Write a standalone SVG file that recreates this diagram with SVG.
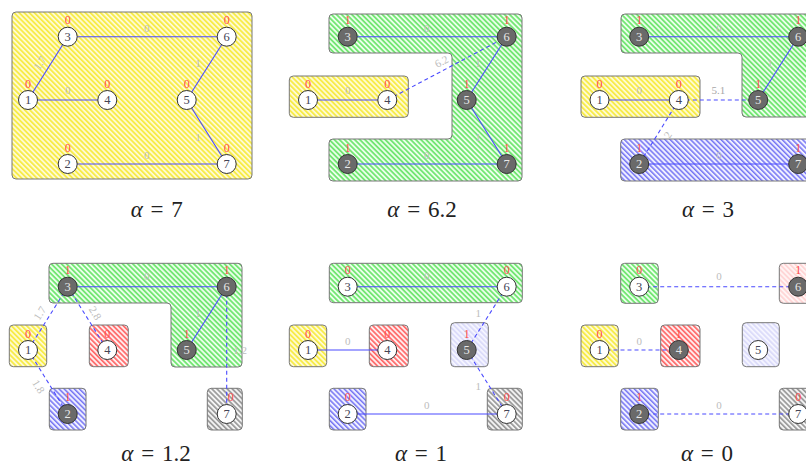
<svg xmlns="http://www.w3.org/2000/svg" width="806" height="468" viewBox="0 0 806 468">
<style>
.n circle{fill:#fff;stroke:#333;stroke-width:1}
.n.d circle{fill:#6a6a6a}
.n text{font-family:"Liberation Serif",serif;font-size:12.5px;text-anchor:middle;fill:#445}
.n.d text{fill:#e8e8e8}
.n text.r{fill:#ff4a4a;font-size:12px}
.e{stroke:#4a4aff;stroke-width:1.1;fill:none}
.ed{stroke:#4a4aff;stroke-width:1.1;fill:none;stroke-dasharray:4 3}
.el{font-family:"Liberation Serif",serif;font-size:11px;fill:#bdbdbd;text-anchor:middle}
.reg{stroke:#777;stroke-width:1}
.al{font-family:"Liberation Serif",serif;font-size:23px;fill:#222;text-anchor:middle;word-spacing:2px}
</style>
<defs>
<pattern id="py" width="3.6" height="3.6" patternUnits="userSpaceOnUse" patternTransform="rotate(-45)"><rect width="3.6" height="3.6" fill="#fffbd8"/><rect width="1.9" height="3.6" fill="#f7ec4a"/></pattern>
<pattern id="pg" width="3.6" height="3.6" patternUnits="userSpaceOnUse" patternTransform="rotate(-45)"><rect width="3.6" height="3.6" fill="#eaffea"/><rect width="1.8" height="3.6" fill="#74e674"/></pattern>
<pattern id="pb" width="3.6" height="3.6" patternUnits="userSpaceOnUse" patternTransform="rotate(-45)"><rect width="3.6" height="3.6" fill="#f0f0ff"/><rect width="1.5" height="3.6" fill="#7474f4"/></pattern>
<pattern id="pr" width="3.6" height="3.6" patternUnits="userSpaceOnUse" patternTransform="rotate(-45)"><rect width="3.6" height="3.6" fill="#ffeeee"/><rect width="1.7" height="3.6" fill="#ff6a6a"/></pattern>
<pattern id="pk" width="3.6" height="3.6" patternUnits="userSpaceOnUse" patternTransform="rotate(-45)"><rect width="3.6" height="3.6" fill="#f4f4f4"/><rect width="1.7" height="3.6" fill="#9a9a9a"/></pattern>
<pattern id="pl" width="3.6" height="3.6" patternUnits="userSpaceOnUse" patternTransform="rotate(-45)"><rect width="3.6" height="3.6" fill="#f6f6ff"/><rect width="1.9" height="3.6" fill="#dcdcfa"/></pattern>
<pattern id="pp" width="3.6" height="3.6" patternUnits="userSpaceOnUse" patternTransform="rotate(-45)"><rect width="3.6" height="3.6" fill="#fff6f6"/><rect width="1.9" height="3.6" fill="#ffd6d6"/></pattern>
</defs>
<rect width="806" height="468" fill="#fff"/>

<!-- Panel alpha = 7 -->
<g id="panel-a7">
<rect class="reg" x="12" y="12" width="240" height="167" rx="4" fill="url(#py)"/>
<g id="a7-connectors">
<line class="e" x1="67.7" y1="36.7" x2="226.7" y2="36.7"/>
<line class="e" x1="28" y1="100" x2="67.7" y2="36.7"/>
<line class="e" x1="28" y1="100" x2="107.3" y2="100"/>
<line class="e" x1="186.7" y1="100" x2="226.7" y2="36.7"/>
<line class="e" x1="186.7" y1="100" x2="226.7" y2="164"/>
<line class="e" x1="67.7" y1="164" x2="226.7" y2="164"/>
<text class="el" x="146.7" y="31.5">0</text>
<text class="el" transform="translate(40,63) rotate(-58)" y="3.5">1.7</text>
<text class="el" x="67.7" y="94">0</text>
<text class="el" x="198" y="66.5">1</text>
<text class="el" x="198" y="140.5">1</text>
<text class="el" x="146.7" y="158.5">0</text>
</g>
<g id="a7-n3" class="n"><circle cx="67.7" cy="36.7" r="9.5"/><text x="67.7" y="40.7">3</text><text class="r" x="67.7" y="24">0</text></g>
<g id="a7-n6" class="n"><circle cx="226.7" cy="36.7" r="9.5"/><text x="226.7" y="40.7">6</text><text class="r" x="226.7" y="24">0</text></g>
<g id="a7-n1" class="n"><circle cx="28" cy="100" r="9.5"/><text x="28" y="104">1</text><text class="r" x="28" y="87.5">0</text></g>
<g id="a7-n4" class="n"><circle cx="107.3" cy="100" r="9.5"/><text x="107.3" y="104">4</text><text class="r" x="107.3" y="87.5">0</text></g>
<g id="a7-n5" class="n"><circle cx="186.7" cy="100" r="9.5"/><text x="186.7" y="104">5</text><text class="r" x="186.7" y="87.5">0</text></g>
<g id="a7-n2" class="n"><circle cx="67.7" cy="164" r="9.5"/><text x="67.7" y="168">2</text><text class="r" x="67.7" y="151.5">0</text></g>
<g id="a7-n7" class="n"><circle cx="226.7" cy="164" r="9.5"/><text x="226.7" y="168">7</text><text class="r" x="226.7" y="151.5">0</text></g>
<text class="al" x="156.7" y="216.5"><tspan font-style="italic">α</tspan> = 7</text>
</g>

<!-- Panel alpha = 6.2 -->
<g id="panel-a62">
<path class="reg" fill="url(#pg)" d="M333,14 H518 Q522,14 522,18 V177 Q522,181 518,181 H333 Q329,181 329,177 V143 Q329,139 333,139 H448 Q452,139 452,135 V57 Q452,53 448,53 H333 Q329,53 329,49 V18 Q329,14 333,14 Z"/>
<rect class="reg" x="289.3" y="76" width="119" height="41.3" rx="4" fill="url(#py)" stroke="#333"/>
<g id="a62-connectors">
<line class="e" x1="347.7" y1="36.7" x2="506.7" y2="36.7"/>
<line class="e" x1="466.7" y1="100" x2="506.7" y2="36.7"/>
<line class="e" x1="466.7" y1="100" x2="506.7" y2="164"/>
<line class="e" x1="347.7" y1="164" x2="506.7" y2="164"/>
<line class="e" x1="308" y1="100" x2="387.3" y2="100"/>
<line class="ed" x1="387.3" y1="100" x2="506.7" y2="36.7"/>
<text class="el" x="426.7" y="31.5">0</text>
<text class="el" x="478" y="66.5">1</text>
<text class="el" x="478" y="140.5">1</text>
<text class="el" x="426.7" y="158.5">0</text>
<text class="el" x="347.7" y="94">0</text>
<text class="el" transform="translate(441.7,61.7) rotate(-28)" y="3.5">6.2</text>
</g>
<g id="a62-n3" class="n d"><circle cx="347.7" cy="36.7" r="9.5"/><text x="347.7" y="40.7">3</text><text class="r" x="347.7" y="24">1</text></g>
<g id="a62-n6" class="n d"><circle cx="506.7" cy="36.7" r="9.5"/><text x="506.7" y="40.7">6</text><text class="r" x="506.7" y="24">1</text></g>
<g id="a62-n1" class="n"><circle cx="308" cy="100" r="9.5"/><text x="308" y="104">1</text><text class="r" x="308" y="87.5">0</text></g>
<g id="a62-n4" class="n"><circle cx="387.3" cy="100" r="9.5"/><text x="387.3" y="104">4</text><text class="r" x="387.3" y="87.5">0</text></g>
<g id="a62-n5" class="n d"><circle cx="466.7" cy="100" r="9.5"/><text x="466.7" y="104">5</text><text class="r" x="466.7" y="87.5">1</text></g>
<g id="a62-n2" class="n d"><circle cx="347.7" cy="164" r="9.5"/><text x="347.7" y="168">2</text><text class="r" x="347.7" y="151.5">1</text></g>
<g id="a62-n7" class="n d"><circle cx="506.7" cy="164" r="9.5"/><text x="506.7" y="168">7</text><text class="r" x="506.7" y="151.5">1</text></g>
<text class="al" x="422" y="216.5"><tspan font-style="italic">α</tspan> = 6.2</text>
</g>

<!-- Panel alpha = 3 -->
<g id="panel-a3">
<path class="reg" fill="url(#pg)" d="M625,14 H810 Q814,14 814,18 V113 Q814,117 810,117 H746 Q742,117 742,113 V57 Q742,53 738,53 H625 Q621,53 621,49 V18 Q621,14 625,14 Z"/>
<rect class="reg" x="581" y="76" width="119" height="41.3" rx="4" fill="url(#py)" stroke="#333"/>
<rect class="reg" x="620.7" y="139" width="193" height="42" rx="4" fill="url(#pb)"/>
<g id="a3-connectors">
<line class="e" x1="639.2" y1="36.7" x2="798.2" y2="36.7"/>
<line class="e" x1="758.2" y1="100" x2="798.2" y2="36.7"/>
<line class="e" x1="599.5" y1="100" x2="678.8" y2="100"/>
<line class="ed" x1="678.8" y1="100" x2="758.2" y2="100"/>
<line class="ed" x1="678.8" y1="100" x2="639.2" y2="164"/>
<line class="e" x1="639.2" y1="164" x2="798.2" y2="164"/>
<text class="el" x="719" y="31.5">0</text>
<text class="el" x="770" y="66.5">1</text>
<text class="el" x="639.3" y="94">0</text>
<text class="el" x="718.3" y="94" style="fill:#a8a8a8">5.1</text>
<text class="el" transform="translate(668,135) rotate(-58)" y="3.5">2</text>
<text class="el" x="719" y="158.5">0</text>
</g>
<g id="a3-n3" class="n d"><circle cx="639.2" cy="36.7" r="9.5"/><text x="639.2" y="40.7">3</text><text class="r" x="639.2" y="24">1</text></g>
<g id="a3-n6" class="n d"><circle cx="798.2" cy="36.7" r="9.5"/><text x="798.2" y="40.7">6</text><text class="r" x="798.2" y="24">1</text></g>
<g id="a3-n1" class="n"><circle cx="599.5" cy="100" r="9.5"/><text x="599.5" y="104">1</text><text class="r" x="599.5" y="87.5">0</text></g>
<g id="a3-n4" class="n"><circle cx="678.8" cy="100" r="9.5"/><text x="678.8" y="104">4</text><text class="r" x="678.8" y="87.5">0</text></g>
<g id="a3-n5" class="n d"><circle cx="758.2" cy="100" r="9.5"/><text x="758.2" y="104">5</text><text class="r" x="758.2" y="87.5">1</text></g>
<g id="a3-n2" class="n d"><circle cx="639.2" cy="164" r="9.5"/><text x="639.2" y="168">2</text><text class="r" x="639.2" y="151.5">1</text></g>
<g id="a3-n7" class="n d"><circle cx="798.2" cy="164" r="9.5"/><text x="798.2" y="168">7</text><text class="r" x="798.2" y="151.5">1</text></g>
<text class="al" x="708" y="216.5"><tspan font-style="italic">α</tspan> = 3</text>
</g>

<!-- Panel alpha = 1.2 -->
<g id="panel-a12">
<path class="reg" fill="url(#pg)" d="M53,263.3 H238 Q242,263.3 242,267.3 V363 Q242,367 238,367 H175 Q171,367 171,363 V307 Q171,303 167,303 H53 Q49,303 49,299 V267 Q49,263.3 53,263.3 Z"/>
<rect class="reg" x="9.3" y="325" width="37.4" height="41.7" rx="4" fill="url(#py)"/>
<rect class="reg" x="89.3" y="325" width="39" height="41.7" rx="4" fill="url(#pr)"/>
<rect class="reg" x="49.3" y="388.3" width="36.7" height="41.7" rx="4" fill="url(#pb)"/>
<rect class="reg" x="207.3" y="388.3" width="35" height="41.7" rx="4" fill="url(#pk)" stroke="#333"/>
<g id="a12-connectors">
<line class="e" x1="67.7" y1="286.7" x2="226.7" y2="286.7"/>
<line class="e" x1="186.7" y1="350" x2="226.7" y2="286.7"/>
<line class="ed" x1="67.7" y1="286.7" x2="28" y2="350"/>
<line class="ed" x1="67.7" y1="286.7" x2="107.3" y2="350"/>
<line class="ed" x1="28" y1="350" x2="67.7" y2="414"/>
<line class="ed" x1="226.7" y1="286.7" x2="226.7" y2="414"/>
<text class="el" x="146.7" y="280">0</text>
<text class="el" x="198" y="316.5">1</text>
<text class="el" transform="translate(40,313.3) rotate(-58)" y="3.5">1.7</text>
<text class="el" transform="translate(95,313.3) rotate(58)" y="3.5">2.8</text>
<text class="el" transform="translate(38.3,386.7) rotate(58)" y="3.5">1.8</text>
<text class="el" x="240" y="353.5">1.2</text>
</g>
<g id="a12-n3" class="n d"><circle cx="67.7" cy="286.7" r="9.5"/><text x="67.7" y="290.7">3</text><text class="r" x="67.7" y="274">1</text></g>
<g id="a12-n6" class="n d"><circle cx="226.7" cy="286.7" r="9.5"/><text x="226.7" y="290.7">6</text><text class="r" x="226.7" y="274">1</text></g>
<g id="a12-n1" class="n"><circle cx="28" cy="350" r="9.5"/><text x="28" y="354">1</text><text class="r" x="28" y="337.5">0</text></g>
<g id="a12-n4" class="n"><circle cx="107.3" cy="350" r="9.5"/><text x="107.3" y="354">4</text><text class="r" x="107.3" y="337.5">0</text></g>
<g id="a12-n5" class="n d"><circle cx="186.7" cy="350" r="9.5"/><text x="186.7" y="354">5</text><text class="r" x="186.7" y="337.5">1</text></g>
<g id="a12-n2" class="n d"><circle cx="67.7" cy="414" r="9.5"/><text x="67.7" y="418">2</text><text class="r" x="67.7" y="401">1</text></g>
<g id="a12-n7" class="n"><circle cx="226.7" cy="414" r="9.5"/><text x="226.7" y="418">7</text><text class="r" x="230.7" y="401">0</text></g>
<text class="al" x="156" y="461"><tspan font-style="italic">α</tspan> = 1.2</text>
</g>

<!-- Panel alpha = 1 -->
<g id="panel-a1">
<rect class="reg" x="329.3" y="263.3" width="193" height="39.4" rx="4" fill="url(#pg)" stroke="#444"/>
<rect class="reg" x="289.3" y="325" width="37.4" height="41.7" rx="4" fill="url(#py)"/>
<rect class="reg" x="369.3" y="325" width="39" height="41.7" rx="4" fill="url(#pr)"/>
<rect class="reg" x="450.7" y="322.7" width="37.6" height="44" rx="4" fill="url(#pl)"/>
<rect class="reg" x="329.3" y="388.3" width="36.7" height="41.7" rx="4" fill="url(#pb)"/>
<rect class="reg" x="487.3" y="388.3" width="35" height="41.7" rx="4" fill="url(#pk)" stroke="#333"/>
<g id="a1-connectors">
<line class="e" x1="347.7" y1="286.7" x2="506.7" y2="286.7"/>
<line class="e" x1="308" y1="350" x2="387.3" y2="350"/>
<line class="e" x1="347.7" y1="414" x2="506.7" y2="414"/>
<line class="ed" x1="506.7" y1="286.7" x2="466.7" y2="350"/>
<line class="ed" x1="466.7" y1="350" x2="506.7" y2="414"/>
<text class="el" x="426.7" y="280">0</text>
<text class="el" x="347.7" y="344.5">0</text>
<text class="el" x="426.7" y="408.5">0</text>
<text class="el" x="478.3" y="316.5">1</text>
<text class="el" x="478.3" y="390">1</text>
</g>
<g id="a1-n3" class="n"><circle cx="347.7" cy="286.7" r="9.5"/><text x="347.7" y="290.7">3</text><text class="r" x="347.7" y="274">0</text></g>
<g id="a1-n6" class="n"><circle cx="506.7" cy="286.7" r="9.5"/><text x="506.7" y="290.7">6</text><text class="r" x="506.7" y="274">0</text></g>
<g id="a1-n1" class="n"><circle cx="308" cy="350" r="9.5"/><text x="308" y="354">1</text><text class="r" x="308" y="337.5">0</text></g>
<g id="a1-n4" class="n"><circle cx="387.3" cy="350" r="9.5"/><text x="387.3" y="354">4</text><text class="r" x="387.3" y="337.5">0</text></g>
<g id="a1-n5" class="n d"><circle cx="466.7" cy="350" r="9.5"/><text x="466.7" y="354">5</text><text class="r" x="466.7" y="337.5">1</text></g>
<g id="a1-n2" class="n"><circle cx="347.7" cy="414" r="9.5"/><text x="347.7" y="418">2</text><text class="r" x="347.7" y="401">0</text></g>
<g id="a1-n7" class="n"><circle cx="506.7" cy="414" r="9.5"/><text x="506.7" y="418">7</text><text class="r" x="506.7" y="401">0</text></g>
<text class="al" x="421" y="461"><tspan font-style="italic">α</tspan> = 1</text>
</g>

<!-- Panel alpha = 0 -->
<g id="panel-a0">
<rect class="reg" x="620.7" y="263.3" width="37.6" height="40" rx="4" fill="url(#pg)"/>
<rect class="reg" x="779.3" y="263.3" width="37" height="40" rx="4" fill="url(#pp)" stroke="#333"/>
<rect class="reg" x="581" y="325" width="37.3" height="41.7" rx="4" fill="url(#py)"/>
<rect class="reg" x="660.7" y="325" width="39.3" height="41.7" rx="4" fill="url(#pr)"/>
<rect class="reg" x="742.3" y="322.7" width="37" height="44" rx="4" fill="url(#pl)"/>
<rect class="reg" x="620.7" y="388.3" width="37.6" height="41.7" rx="4" fill="url(#pb)"/>
<rect class="reg" x="779.3" y="388.3" width="37" height="41.7" rx="4" fill="url(#pk)" stroke="#333"/>
<g id="a0-connectors">
<line class="ed" x1="639.2" y1="286.7" x2="798.2" y2="286.7"/>
<line class="ed" x1="599.5" y1="350" x2="678.8" y2="350"/>
<line class="ed" x1="639.2" y1="414" x2="798.2" y2="414"/>
<text class="el" x="719" y="280">0</text>
<text class="el" x="639.3" y="344.5">0</text>
<text class="el" x="719" y="408.5">0</text>
</g>
<g id="a0-n3" class="n"><circle cx="639.2" cy="286.7" r="9.5"/><text x="639.2" y="290.7">3</text><text class="r" x="639.2" y="274">0</text></g>
<g id="a0-n6" class="n d"><circle cx="798.2" cy="286.7" r="9.5"/><text x="798.2" y="290.7">6</text><text class="r" x="798.2" y="274">1</text></g>
<g id="a0-n1" class="n"><circle cx="599.5" cy="350" r="9.5"/><text x="599.5" y="354">1</text><text class="r" x="599.5" y="337.5">0</text></g>
<g id="a0-n4" class="n d"><circle cx="678.8" cy="350" r="9.5"/><text x="678.8" y="354">4</text><text class="r" x="678.8" y="337.5">1</text></g>
<g id="a0-n5" class="n"><circle cx="758.2" cy="350" r="9.5"/><text x="758.2" y="354">5</text></g>
<g id="a0-n2" class="n d"><circle cx="639.2" cy="414" r="9.5"/><text x="639.2" y="418">2</text><text class="r" x="639.2" y="401">1</text></g>
<g id="a0-n7" class="n"><circle cx="798.2" cy="414" r="9.5"/><text x="798.2" y="418">7</text><text class="r" x="798.2" y="401">0</text></g>
<text class="al" x="707" y="461"><tspan font-style="italic">α</tspan> = 0</text>
</g>
</svg>
